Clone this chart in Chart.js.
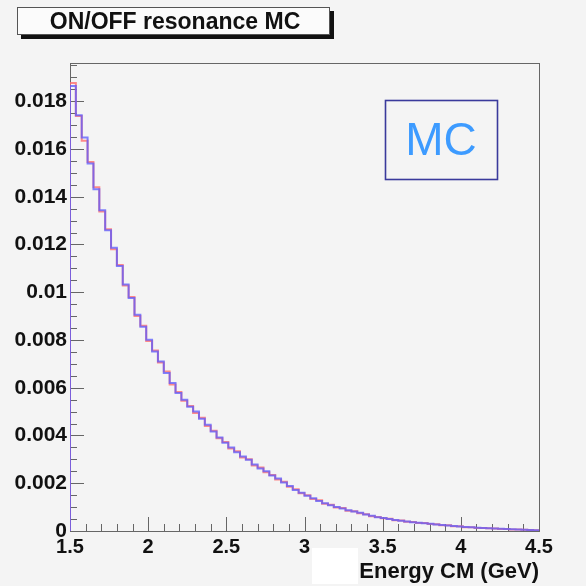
<!DOCTYPE html>
<html>
<head>
<meta charset="utf-8">
<script src="https://cdn.jsdelivr.net/npm/chart.js@4"></script>
<style>
  html, body { margin: 0; padding: 0; background: #f4f4f4; }
  #wrap { width: 586px; height: 586px; }
</style>
</head>
<body>
<div id="wrap"><canvas id="chart" width="586" height="586"></canvas></div>
<script>
'use strict'

// histogram binning (GeV)
var binLow = 1.5;
var binHigh = 4.5;
var nBins = 80;

// bin contents, blue and red histograms
var mcBlue = [
    0.01864, 0.01741, 0.01648, 0.01539, 0.01431, 0.01343, 0.01260, 0.01186, 0.01110, 0.01032,
    0.00976, 0.00906, 0.00855, 0.00801, 0.00752, 0.00710, 0.00662, 0.00620, 0.00578, 0.00550,
    0.00520, 0.00500, 0.00470, 0.00445, 0.00417, 0.00392, 0.00370, 0.00350, 0.00330, 0.00312,
    0.00298, 0.00278, 0.00262, 0.00250, 0.00232, 0.00220, 0.00203, 0.00188, 0.00172, 0.00160,
    0.00148, 0.00137, 0.00126, 0.00116, 0.00108, 0.00100, 0.00094, 0.00087, 0.00082, 0.00076,
    0.00069, 0.00064, 0.00058, 0.00054, 0.00050, 0.00046, 0.00043, 0.00040, 0.00037, 0.00035,
    0.00032, 0.00030, 0.00027, 0.00025, 0.00023, 0.00021, 0.00019, 0.00017, 0.00016, 0.00014,
    0.00013, 0.00011, 0.00010, 0.00009, 0.00008, 0.00007, 0.00006, 0.00005, 0.00004, 0.00003
];
var mcRed = [
    0.01876, 0.01738, 0.01634, 0.01545, 0.01440, 0.01338, 0.01264, 0.01180, 0.01114, 0.01028,
    0.00980, 0.00900, 0.00860, 0.00796, 0.00756, 0.00706, 0.00668, 0.00614, 0.00582, 0.00546,
    0.00524, 0.00494, 0.00474, 0.00440, 0.00420, 0.00388, 0.00373, 0.00346, 0.00334, 0.00308,
    0.00300, 0.00274, 0.00266, 0.00246, 0.00235, 0.00216, 0.00206, 0.00185, 0.00175, 0.00158,
    0.00150, 0.00134, 0.00129, 0.00114, 0.00110, 0.00098, 0.00096, 0.00085, 0.00083, 0.00074,
    0.00070, 0.00062, 0.00059, 0.00053, 0.00051, 0.00045, 0.00044, 0.00039, 0.00038, 0.00034,
    0.00033, 0.00029, 0.00028, 0.00024, 0.00024, 0.00020, 0.00020, 0.00016, 0.00016, 0.00013,
    0.00013, 0.00011, 0.00010, 0.00008, 0.00008, 0.00006, 0.00006, 0.00005, 0.00004, 0.00003
];

var xTicks = [1.5, 2, 2.5, 3, 3.5, 4, 4.5];
var yTicks = [0, 0.002, 0.004, 0.006, 0.008, 0.01, 0.012, 0.014, 0.016, 0.018];
var yMax = 0.0196;

var titleText = 'ON/OFF resonance MC';
var xTitle = 'Energy CM (GeV)';
var boxText = 'MC';

// step points: one per left bin edge, plus closing edges
function histPoints(vals) {
    var w = (binHigh - binLow) / nBins;
    var pts = [{ x: binLow, y: 0 }];
    for (var i = 0; i < vals.length; i++) {
        pts.push({ x: binLow + i * w, y: vals[i] });
    }
    pts.push({ x: binHigh, y: vals[vals.length - 1] });
    pts.push({ x: binHigh, y: 0 });
    return pts;
}

var FONT = '"Liberation Sans", Arial, Helvetica, sans-serif';

// background, frame and ROOT-like inward ticks
var rootFrame = {
    id: 'rootFrame',
    beforeDraw: function (chart) {
        var c = chart.ctx;
        c.save();
        c.fillStyle = '#f4f4f4';
        c.fillRect(0, 0, chart.width, chart.height);
        c.restore();
    },
    beforeDatasetsDraw: function (chart) {
        var c = chart.ctx, a = chart.chartArea;
        var xs = chart.scales.x, ys = chart.scales.y;
        c.save();
        c.strokeStyle = '#666';
        c.lineWidth = 1;
        c.strokeRect(a.left + 0.5, a.top + 0.5, a.right - a.left, a.bottom - a.top);
        c.beginPath();
        // x ticks: major 0.5, minor 0.1
        for (var k = 0; k <= 30; k++) {
            var xv = binLow + k * 0.1;
            var px = Math.round(xs.getPixelForValue(xv)) + 0.5;
            var len = (k % 5 === 0) ? 14 : 7;
            c.moveTo(px, a.bottom);
            c.lineTo(px, a.bottom - len);
        }
        // y ticks: major 0.002, minor 0.0005
        for (var j = 0; j * 0.0005 <= yMax; j++) {
            var py = Math.round(ys.getPixelForValue(j * 0.0005)) + 0.5;
            var ylen = (j % 4 === 0) ? 14 : 7;
            c.moveTo(a.left, py);
            c.lineTo(a.left + ylen, py);
        }
        c.stroke();
        c.restore();
    },
    afterDraw: function (chart) {
        var c = chart.ctx;
        c.save();
        // title box with shadow
        c.fillStyle = '#111';
        c.fillRect(21, 11, 313, 28);
        c.fillStyle = '#fbfbfb';
        c.fillRect(17, 7, 313, 28);
        c.strokeStyle = '#555';
        c.lineWidth = 1;
        c.strokeRect(17.5, 7.5, 312, 27);
        c.fillStyle = '#111';
        c.font = 'bold 23px ' + FONT;
        c.textAlign = 'center';
        c.textBaseline = 'middle';
        c.fillText(titleText, 175, 23);

        // MC label box
        c.strokeStyle = '#3a3a9c';
        c.lineWidth = 1.6;
        c.strokeRect(385.5, 100.5, 112, 79);
        c.fillStyle = '#3d9bff';
        c.font = '46px ' + FONT;
        c.fillText(boxText, 441, 142);

        // white patch near x-axis title
        c.fillStyle = '#ffffff';
        c.fillRect(312, 548, 46, 36);
        c.restore();
    }
};

new Chart(document.getElementById('chart'), {
    type: 'line',
    data: {
        datasets: [{
            data: histPoints(mcBlue),
            borderColor: 'rgba(90, 90, 255, 0.75)',
            borderWidth: 2,
            stepped: true,
            pointRadius: 0,
            fill: false
        }, {
            data: histPoints(mcRed),
            borderColor: 'rgba(255, 110, 110, 0.8)',
            borderWidth: 2,
            stepped: true,
            pointRadius: 0,
            fill: false
        }]
    },
    options: {
        responsive: false,
        animation: false,
        events: [],
        layout: { padding: { top: 63, right: 47, left: 0, bottom: 0 } },
        plugins: {
            legend: { display: false },
            tooltip: { enabled: false }
        },
        scales: {
            x: {
                type: 'linear',
                min: binLow,
                max: binHigh,
                grid: { display: false, drawTicks: false, tickLength: 0 },
                border: { display: false },
                afterBuildTicks: function (s) {
                    s.ticks = xTicks.map(function (v) { return { value: v }; });
                },
                afterFit: function (s) { s.height = 55; },
                ticks: {
                    autoSkip: false,
                    maxRotation: 0,
                    padding: 4,
                    color: '#111',
                    font: { family: FONT, size: 20, weight: 'bold' },
                    callback: function (v) { return String(v); }
                },
                title: {
                    display: true,
                    text: xTitle,
                    align: 'end',
                    color: '#111',
                    font: { family: FONT, size: 22, weight: 'bold' },
                    padding: { top: 0, bottom: 1 }
                }
            },
            y: {
                type: 'linear',
                min: 0,
                max: yMax,
                grid: { display: false, drawTicks: false, tickLength: 0 },
                border: { display: false },
                afterBuildTicks: function (s) {
                    s.ticks = yTicks.map(function (v) { return { value: v }; });
                },
                afterFit: function (s) { s.width = 70; },
                ticks: {
                    autoSkip: false,
                    padding: 3,
                    color: '#111',
                    font: { family: FONT, size: 21, weight: 'bold' },
                    callback: function (v) { return String(parseFloat(v.toFixed(4))); }
                }
            }
        }
    },
    plugins: [rootFrame]
});
</script>
</body>
</html>
